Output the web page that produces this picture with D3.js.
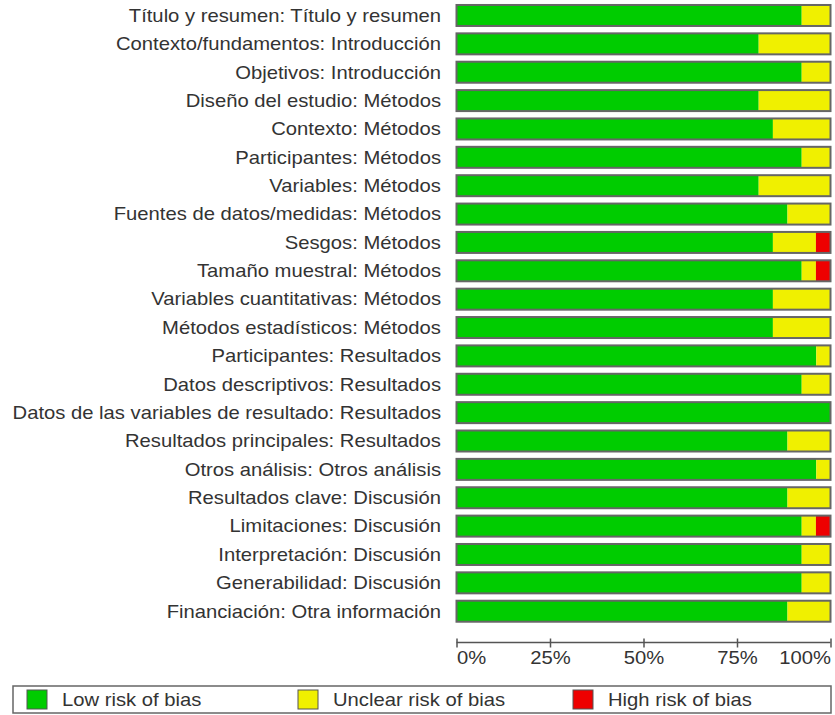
<!DOCTYPE html>
<html>
<head>
<meta charset="utf-8">
<script src="https://cdn.jsdelivr.net/npm/d3@7"></script>
<style>
  html, body { margin: 0; padding: 0; background: #fff; }
  svg { display: block; font-family: "Liberation Sans", Arial, sans-serif; }
</style>
</head>
<body>
<svg id="chart" width="835" height="715"></svg>
<script>
// ---- Data (percent of studies; 26 studies) ----
const categories = [
  "Título y resumen: Título y resumen",
  "Contexto/fundamentos: Introducción",
  "Objetivos: Introducción",
  "Diseño del estudio: Métodos",
  "Contexto: Métodos",
  "Participantes: Métodos",
  "Variables: Métodos",
  "Fuentes de datos/medidas: Métodos",
  "Sesgos: Métodos",
  "Tamaño muestral: Métodos",
  "Variables cuantitativas: Métodos",
  "Métodos estadísticos: Métodos",
  "Participantes: Resultados",
  "Datos descriptivos: Resultados",
  "Datos de las variables de resultado: Resultados",
  "Resultados principales: Resultados",
  "Otros análisis: Otros análisis",
  "Resultados clave: Discusión",
  "Limitaciones: Discusión",
  "Interpretación: Discusión",
  "Generabilidad: Discusión",
  "Financiación: Otra información"
];
const lowRisk     = [92.3, 80.8, 92.3, 80.8, 84.6, 92.3, 80.8, 88.5, 84.6, 92.3, 84.6, 84.6, 96.2, 92.3, 100, 88.5, 96.2, 88.5, 92.3, 92.3, 92.3, 88.5];
const unclearRisk = [7.7, 19.2, 7.7, 19.2, 15.4, 7.7, 19.2, 11.5, 11.5, 3.8, 15.4, 15.4, 3.8, 7.7, 0, 11.5, 3.8, 11.5, 3.8, 7.7, 7.7, 11.5];
const highRisk    = [0, 0, 0, 0, 0, 0, 0, 0, 3.8, 3.8, 0, 0, 0, 0, 0, 0, 0, 0, 3.8, 0, 0, 0];
const tickValues  = [0, 25, 50, 75, 100];
const tickLabels  = ["0%", "25%", "50%", "75%", "100%"];
const legendLabels = ["Low risk of bias", "Unclear risk of bias", "High risk of bias"];

// ---- Styles ----
const colors = ["#00cc00", "#f0f000", "#ee0000"];
const textColor = "#333";
const borderColor = "#666";
const fontSize = "18px";
const stretch = 1.125;

const svg = d3.select("#chart");

const x = d3.scaleLinear().domain([0, 100]).range([456.5, 830.5]);
const y = d3.scaleBand().domain(categories).range([1.3, 625.4]).paddingInner(0.26).paddingOuter(0.13);

const rows = categories.map((c, i) => ({
  cat: c,
  segs: [
    { start: 0, end: lowRisk[i], k: 0 },
    { start: lowRisk[i], end: lowRisk[i] + unclearRisk[i], k: 1 },
    { start: lowRisk[i] + unclearRisk[i], end: Math.min(100, lowRisk[i] + unclearRisk[i] + highRisk[i]), k: 2 }
  ]
}));

const g = svg.append("g");
const row = g.selectAll("g.row").data(rows).enter().append("g").attr("class", "row");

row.selectAll("rect.seg")
  .data(d => d.segs.filter(s => s.end > s.start).map(s => ({ ...s, cat: d.cat })))
  .enter().append("rect")
  .attr("class", "seg")
  .attr("x", s => x(s.start))
  .attr("width", s => x(s.end) - x(s.start))
  .attr("y", s => y(s.cat))
  .attr("height", y.bandwidth())
  .attr("fill", s => colors[s.k]);

row.append("rect")
  .attr("x", x(0))
  .attr("width", x(100) - x(0))
  .attr("y", d => y(d.cat))
  .attr("height", y.bandwidth())
  .attr("fill", "none")
  .attr("stroke", borderColor)
  .attr("stroke-width", 2);

row.append("text")
  .attr("transform", d => `translate(441,${y(d.cat) + y.bandwidth() / 2}) scale(${stretch},1)`)
  .attr("dy", "0.35em")
  .attr("text-anchor", "end")
  .attr("fill", textColor)
  .style("font-size", fontSize)
  .text(d => d.cat);

// ---- Axis ----
const axisY = 642.5;
const axis = d3.axisBottom(x)
  .tickValues(tickValues)
  .tickFormat((d, i) => tickLabels[i])
  .tickSize(4)
  .tickPadding(5);
const ax = svg.append("g").attr("transform", `translate(0,${axisY})`).call(axis);
ax.select(".domain").attr("stroke", "#555").attr("stroke-width", 1.5).attr("d", `M${x(0)},0H${x(100)}`);
ax.selectAll(".tick line").attr("stroke", "#555").attr("stroke-width", 1.5).attr("y1", -4).attr("y2", 5);
ax.selectAll(".tick text")
  .attr("fill", textColor)
  .style("font-size", fontSize)
  .style("font-family", "\"Liberation Sans\", Arial, sans-serif")
  .attr("text-anchor", (d, i) => i === 0 ? "start" : (i === tickValues.length - 1 ? "end" : "middle"))
  .attr("transform", (d, i) => {
    const ox = i === 0 ? 0 : 0;
    return `scale(${stretch},1)`;
  });

// ---- Legend ----
const legend = svg.append("g");
legend.append("rect")
  .attr("x", 13).attr("y", 686).attr("width", 818).attr("height", 27)
  .attr("fill", "#fff").attr("stroke", borderColor).attr("stroke-width", 1.5);
const legendX = [27, 298, 573];
const li = legend.selectAll("g.li").data(legendLabels).enter().append("g")
  .attr("transform", (d, i) => `translate(${legendX[i]},690)`);
li.append("rect").attr("width", 20).attr("height", 19)
  .attr("fill", (d, i) => colors[i]).attr("stroke", "#555").attr("stroke-width", 1);
li.append("text")
  .attr("transform", `translate(35,10) scale(${stretch},1)`)
  .attr("dy", "0.35em")
  .attr("fill", textColor).style("font-size", fontSize).text(d => d);
</script>
</body>
</html>
